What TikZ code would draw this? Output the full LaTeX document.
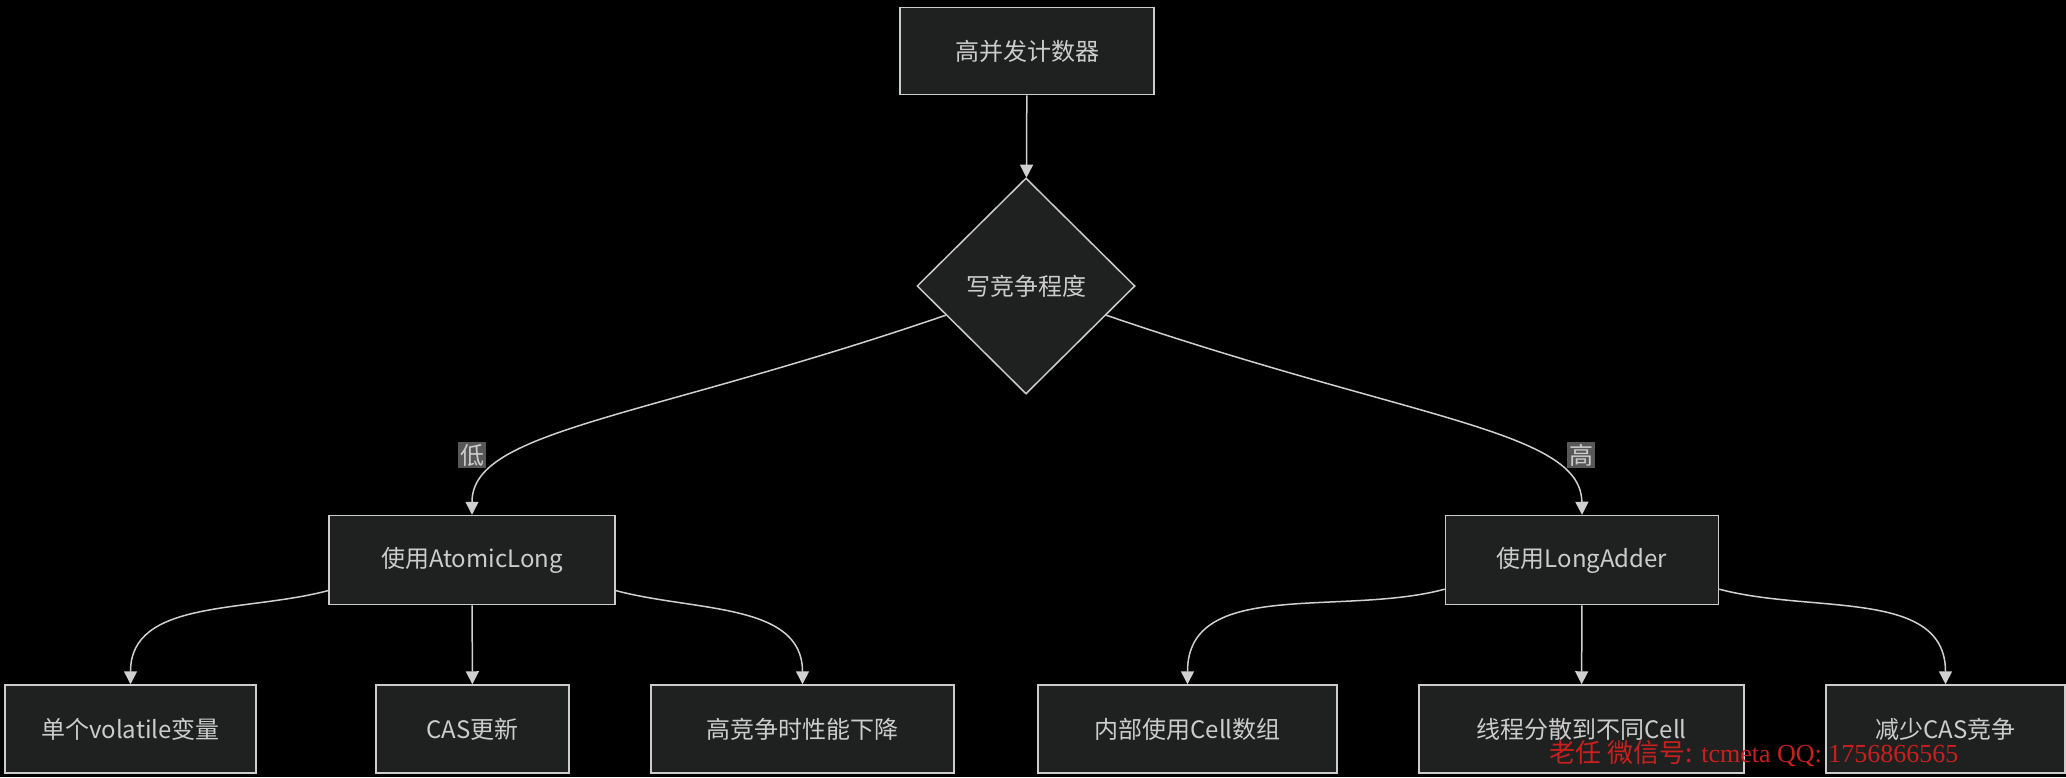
\documentclass[tikz,border=0pt]{standalone}
\usepackage{fontspec}
\setmainfont{Noto Sans CJK SC}
\newfontfamily\markfont{Liberation Serif}
\newfontfamily\markcjk{Noto Sans CJK SC}
\usetikzlibrary{shapes.geometric,arrows.meta}
\definecolor{boxfill}{HTML}{1F2020}
\definecolor{boxline}{HTML}{CCCCCC}
\definecolor{edgecol}{HTML}{D0D0D0}
\definecolor{labfill}{HTML}{585858}
\definecolor{markred}{HTML}{C8201E}
\tikzset{
  block/.style={rectangle, draw=boxline, fill=boxfill, line width=1.5pt, text=boxline,
    font=\fontsize{24}{28}\selectfont, inner sep=0pt},
  choice/.style={diamond, draw=boxline, fill=boxfill, line width=1.5pt, text=boxline,
    font=\fontsize{24}{28}\selectfont, minimum width=218pt, minimum height=216pt, inner sep=0pt},
  edge/.style={draw=edgecol, line width=1.5pt, -{Triangle[length=13pt,width=13pt]}},
  lab/.style={fill=labfill, text=boxline, font=\fontsize{24}{28}\selectfont, inner sep=2pt}
}
\begin{document}
\begin{tikzpicture}[x=1pt, y=-1pt]
   \fill[black] (0,0) rectangle (2066,777);
   \useasboundingbox (0,0) rectangle (2066,777);
   % Place nodes
   \node [block, minimum width=254pt, minimum height=87pt] (top) at (1027,51) {高并发计数器};
   \node [choice] (q) at (1026,286) {写竞争程度};
   \node [block, minimum width=286pt, minimum height=89pt] (al) at (472,560) {使用AtomicLong};
   \node [block, minimum width=273pt, minimum height=89pt] (la) at (1582,560) {使用LongAdder};
   \node [block, minimum width=251pt, minimum height=88pt] (a1) at (130.5,729) {单个volatile变量};
   \node [block, minimum width=193pt, minimum height=88pt] (a2) at (472.5,729) {CAS更新};
   \node [block, minimum width=303pt, minimum height=88pt] (a3) at (802.5,729) {高竞争时性能下降};
   \node [block, minimum width=299pt, minimum height=88pt] (b1) at (1187.5,729) {内部使用Cell数组};
   \node [block, minimum width=325pt, minimum height=88pt] (b2) at (1581.5,729) {线程分散到不同Cell};
   \node [block, minimum width=239pt, minimum height=88pt] (b3) at (1945.5,729) {减少CAS竞争};
   % Edges
   \draw [edge] (top) -- (q);
   \draw [edge] (q.-160) .. controls (640,420) and (472,430) .. (al.north);
   \draw [edge] (q.-20) .. controls (1412,420) and (1581,430) .. (la.north);
   \node [lab] (low) at (472,455) {低};
   \node [lab] (high) at (1581,455) {高};
   \draw [edge] (al.-168) to [out=-165, in=90] (a1.north);
   \draw [edge] (al) -- (a2);
   \draw [edge] (al.-12) to [out=-15, in=90] (a3.north);
   \draw [edge] (la.-168) to [out=-165, in=90] (b1.north);
   \draw [edge] (la) -- (b2);
   \draw [edge] (la.-12) to [out=-15, in=90] (b3.north);
   % watermark
   \node [text=markred, font=\markfont\fontsize{26}{30}\selectfont] (mark) at (1754,754) {{\markcjk 老任 微信号:} tcmeta QQ: 1756866565};
\end{tikzpicture}
\end{document}
